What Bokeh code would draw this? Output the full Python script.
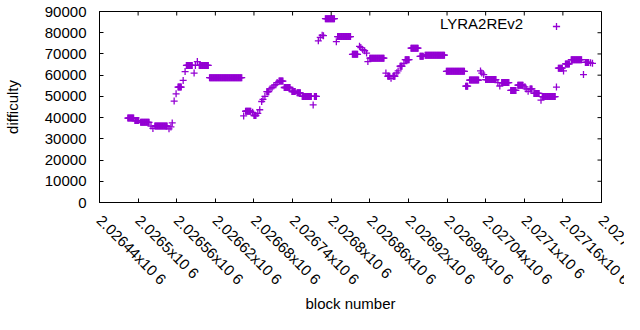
import math
from bokeh.plotting import figure
from bokeh.models import FixedTicker, Legend, LegendItem, Range1d
from bokeh.embed import file_html
from bokeh.resources import INLINE

# ---- data: runs of blocks with the same difficulty (first block, last block, difficulty)
seg_first = [2026484, 2026495, 2026504, 2026520, 2026523, 2026526, 2026548, 2026551, 2026553, 2026556,
             2026559, 2026562, 2026570, 2026573, 2026575, 2026587, 2026589, 2026592, 2026595, 2026611,
             2026664, 2026667, 2026678, 2026680, 2026686, 2026689, 2026692, 2026694, 2026697, 2026700,
             2026705, 2026708, 2026711, 2026714, 2026716, 2026719, 2026727, 2026739, 2026747, 2026755,
             2026772, 2026774, 2026780, 2026783, 2026786, 2026788, 2026791, 2026808, 2026810, 2026833,
             2026844, 2026846, 2026849, 2026852, 2026855, 2026857, 2026860, 2026885, 2026888, 2026893,
             2026896, 2026902, 2026904, 2026907, 2026913, 2026915, 2026924, 2026938, 2026946, 2026979,
             2027009, 2027015, 2027032, 2027034, 2027037, 2027040, 2027059, 2027062, 2027065, 2027079,
             2027090, 2027101, 2027103, 2027106, 2027109, 2027115, 2027126, 2027128, 2027150, 2027153,
             2027161, 2027164, 2027173, 2027192, 2027195, 2027203, 2027206]
seg_last = [2026493, 2026501, 2026517, 2026520, 2026523, 2026545, 2026548, 2026551, 2026553, 2026556,
            2026559, 2026567, 2026570, 2026573, 2026584, 2026587, 2026589, 2026592, 2026609, 2026661,
            2026664, 2026675, 2026678, 2026683, 2026686, 2026689, 2026692, 2026694, 2026697, 2026703,
            2026705, 2026708, 2026711, 2026714, 2026716, 2026725, 2026736, 2026744, 2026752, 2026769,
            2026772, 2026777, 2026780, 2026783, 2026786, 2026788, 2026805, 2026808, 2026830, 2026841,
            2026844, 2026846, 2026849, 2026852, 2026855, 2026857, 2026882, 2026885, 2026891, 2026893,
            2026899, 2026902, 2026904, 2026910, 2026913, 2026921, 2026935, 2026943, 2026976, 2027007,
            2027012, 2027029, 2027032, 2027034, 2027037, 2027056, 2027059, 2027062, 2027076, 2027087,
            2027098, 2027101, 2027103, 2027106, 2027112, 2027123, 2027126, 2027148, 2027150, 2027159,
            2027161, 2027170, 2027189, 2027192, 2027200, 2027203, 2027206]
seg_diff = [39800, 38600, 37800, 36000, 34900, 36000, 34700, 35600, 37500, 47800,
            51200, 54400, 57500, 61700, 64600, 61000, 64600, 66400, 64600, 58800,
            40800, 43000, 42500, 41000, 42000, 43700, 47600, 48600, 50000, 52200,
            53500, 54200, 55000, 55500, 56500, 57200, 54200, 52300, 51700, 50000,
            46000, 50000, 76200, 77800, 78800, 78600, 86600, 75800, 78200, 69800,
            73600, 73000, 72000, 71500, 70400, 66400, 68000, 61000, 59500, 58500,
            59500, 61100, 62000, 64200, 65500, 67300, 72700, 68900, 69400, 61800,
            54800, 57700, 62000, 61000, 60300, 57900, 56500, 54900, 56500, 52800,
            55300, 54500, 53500, 52400, 53500, 51400, 48200, 49900, 54400, 63300,
            62000, 65300, 67300, 60300, 66000, 65800, 65600]

x_tick_values = [2026440, 2026500, 2026560, 2026620, 2026680, 2026740, 2026800,
                 2026860, 2026920, 2026980, 2027040, 2027100, 2027160, 2027220]
x_tick_labels = ["2.02644x10 6", "2.0265x10 6", "2.02656x10 6", "2.02662x10 6",
                 "2.02668x10 6", "2.02674x10 6", "2.0268x10 6", "2.02686x10 6",
                 "2.02692x10 6", "2.02698x10 6", "2.02704x10 6", "2.0271x10 6",
                 "2.02716x10 6", "2.02722x10 6"]
y_tick_values = [0, 10000, 20000, 30000, 40000, 50000, 60000, 70000, 80000, 90000]

series_name = "LYRA2REv2"
x_title = "block number"
y_title = "difficulty"

assert len(seg_first) == len(seg_last) == len(seg_diff)
blocks, diffs = [], []
for a, b, d in zip(seg_first, seg_last, seg_diff):
    for blk in range(a, b + 1):
        blocks.append(blk)
        diffs.append(d)

FONT = "Liberation Sans"
FS = "15px"
COLOR = "#9400D3"
x_lo, x_hi = x_tick_values[0], x_tick_values[-1]
y_lo, y_hi = y_tick_values[0], y_tick_values[-1]

p = figure(width=624, height=314, output_backend="svg", toolbar_location=None,
           x_range=Range1d(x_lo, x_hi), y_range=Range1d(y_lo, y_hi),
           min_border_left=96, min_border_top=11, min_border_right=23, min_border_bottom=111)
p.grid.visible = False
p.outline_line_color = "black"
p.outline_line_width = 1
p.background_fill_color = "white"
p.border_fill_color = "white"

pts = p.scatter(blocks, diffs, marker="cross", size=7, line_color=COLOR, line_width=1.3)
ghost = p.scatter([], [], marker="cross", size=7, line_alpha=0, fill_alpha=0)

# mirrored inward tick marks on the top and right edges
nx, ny = len(x_tick_values), len(y_tick_values)
tick_kw = dict(length=4, length_units="screen", line_color="black", line_width=1)
p.ray(x=x_tick_values, y=[y_hi] * nx, angle=-math.pi / 2, **tick_kw)
p.ray(x=[x_hi] * ny, y=y_tick_values, angle=math.pi, **tick_kw)

# x axis.  Bokeh nudges the outermost tick label back inside the canvas; a blank
# companion tick placed just before the right end takes that role, so the real
# last label runs off the edge as in the reference.
spare = x_hi - 1e-4
xa = p.xaxis[0]
xa.ticker = FixedTicker(ticks=x_tick_values + [spare])
overrides = {v: s for v, s in zip(x_tick_values, x_tick_labels)}
overrides[spare] = " "
xa.major_label_overrides = overrides
xa.major_label_orientation = -math.pi / 4
xa.major_tick_in = 4
xa.major_tick_out = 0
xa.minor_tick_line_color = None
xa.axis_line_color = "black"
xa.major_label_text_font = FONT
xa.major_label_text_font_size = FS
xa.major_label_text_color = "black"
xa.major_label_standoff = 15
xa.axis_label = x_title
xa.axis_label_standoff = -2
xa.axis_label_text_font = FONT
xa.axis_label_text_font_style = "normal"
xa.axis_label_text_font_size = FS
xa.axis_label_text_color = "black"

ya = p.yaxis[0]
ya.ticker = FixedTicker(ticks=y_tick_values)
ya.major_tick_in = 4
ya.major_tick_out = 0
ya.minor_tick_line_color = None
ya.axis_line_color = "black"
ya.major_label_text_font = FONT
ya.major_label_text_font_size = FS
ya.major_label_text_color = "black"
ya.major_label_standoff = 13
ya.axis_label = y_title
ya.axis_label_standoff = 21
ya.axis_label_text_font = FONT
ya.axis_label_text_font_style = "normal"
ya.axis_label_text_font_size = FS
ya.axis_label_text_color = "black"

leg_text = Legend(items=[LegendItem(label=series_name, renderers=[ghost])],
                  location=(316, 169), padding=0, margin=0,
                  glyph_width=20, glyph_height=20, label_standoff=5,
                  border_line_color=None, background_fill_alpha=0,
                  label_text_font=FONT, label_text_font_size=FS, label_text_color="black")
leg_mark = Legend(items=[LegendItem(label=" ", renderers=[pts])],
                  location=(448, 167), padding=0, margin=0,
                  glyph_width=18, glyph_height=18, label_standoff=0,
                  border_line_color=None, background_fill_alpha=0,
                  label_text_font=FONT, label_text_font_size=FS)
p.add_layout(leg_text)
p.add_layout(leg_mark)

open("out.html", "w").write(file_html(p, INLINE))
